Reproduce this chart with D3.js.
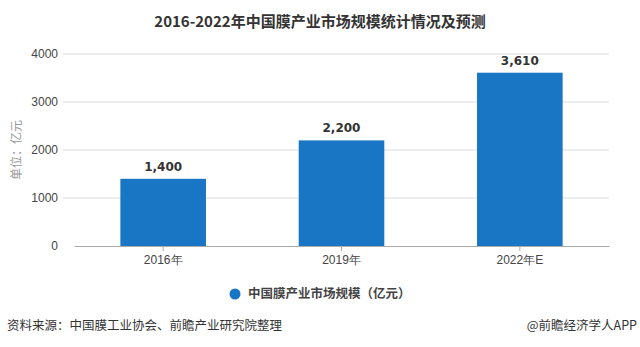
<!DOCTYPE html>
<html>
<head>
<meta charset="utf-8">
<script src="https://cdn.jsdelivr.net/npm/d3@7"></script>
<style>
  body { margin: 0; background: #fff; }
  svg { display: block; font-family: "Noto Sans CJK SC", "Liberation Sans", sans-serif; }
</style>
</head>
<body>
<svg id="chart" width="640" height="347"></svg>
<script>
// data
const years = ["2016年", "2019年", "2022年E"];
const marketSize = [1400, 2200, 3610];
const yTicks = [0, 1000, 2000, 3000, 4000];

const svg = d3.select("#chart");
const margin = {left: 74, right: 31, top: 54, bottom: 101};
const width = 640, height = 347;

const x = d3.scaleBand().domain(years)
    .range([margin.left, width - margin.right])
    .paddingInner(0.52).paddingOuter(0.26);
const y = d3.scaleLinear().domain([0, 4000])
    .range([height - margin.bottom, margin.top]);

// title
svg.append("text")
    .attr("x", 320).attr("y", 27)
    .attr("text-anchor", "middle")
    .attr("font-size", 15).attr("font-weight", "bold")
    .attr("fill", "#333")
    .text("2016-2022年中国膜产业市场规模统计情况及预测");

// grid lines
svg.append("g").selectAll("line")
    .data(yTicks.filter(d => d > 0))
    .join("line")
    .attr("x1", 63).attr("x2", width - margin.right)
    .attr("y1", d => y(d)).attr("y2", d => y(d))
    .attr("stroke", "#dcdcdc").attr("stroke-width", 1);

// y axis
const yAxis = svg.append("g")
    .attr("transform", `translate(${margin.left},0)`)
    .call(d3.axisLeft(y).tickValues(yTicks).tickFormat(d3.format("d")).tickSize(0).tickPadding(16));
yAxis.select(".domain").remove();
yAxis.selectAll("text")
    .attr("font-size", 12).attr("fill", "#444")
    .style("font-family", "'Liberation Sans', sans-serif");

svg.append("text")
    .attr("transform", `translate(21,${(y(0) + y(4000)) / 2}) rotate(-90)`)
    .attr("text-anchor", "middle")
    .attr("font-size", 12).attr("fill", "#999")
    .text("单位：亿元");

// bars
svg.append("g").selectAll("rect")
    .data(marketSize)
    .join("rect")
    .attr("x", (d, i) => x(years[i]))
    .attr("width", x.bandwidth())
    .attr("y", d => y(d))
    .attr("height", d => y(0) - y(d))
    .attr("fill", "#1876c4");

// value labels
svg.append("g").selectAll("text")
    .data(marketSize)
    .join("text")
    .attr("x", (d, i) => x(years[i]) + x.bandwidth() / 2)
    .attr("y", d => y(d) - 8)
    .attr("text-anchor", "middle")
    .attr("font-size", 12).attr("font-weight", "bold")
    .attr("fill", "#333")
    .style("font-family", "'DejaVu Sans', sans-serif")
    .text(d => d3.format(",")(d));

// x axis
const xAxis = svg.append("g")
    .attr("transform", `translate(0,${y(0)})`)
    .call(d3.axisBottom(x).tickSize(5).tickPadding(4).tickSizeOuter(0));
xAxis.select(".domain").attr("stroke", "#aaa");
xAxis.selectAll(".tick line").attr("stroke", "#aaa");
xAxis.selectAll("text").attr("font-size", 12).attr("fill", "#444");

// legend
const legend = svg.append("g").attr("transform", "translate(235,294)");
legend.append("circle").attr("r", 5.5).attr("fill", "#1876c4");
legend.append("text")
    .attr("x", 13).attr("dy", "0.35em")
    .attr("font-size", 12.5).attr("font-weight", "bold")
    .attr("fill", "#444")
    .text("中国膜产业市场规模（亿元）");

// footer
svg.append("text")
    .attr("x", 7).attr("y", 330)
    .attr("font-size", 12.5).attr("fill", "#333")
    .text("资料来源：中国膜工业协会、前瞻产业研究院整理");
svg.append("text")
    .attr("x", 637).attr("y", 330)
    .attr("text-anchor", "end")
    .attr("font-size", 12.5).attr("fill", "#333")
    .text("@前瞻经济学人APP");
</script>
</body>
</html>
